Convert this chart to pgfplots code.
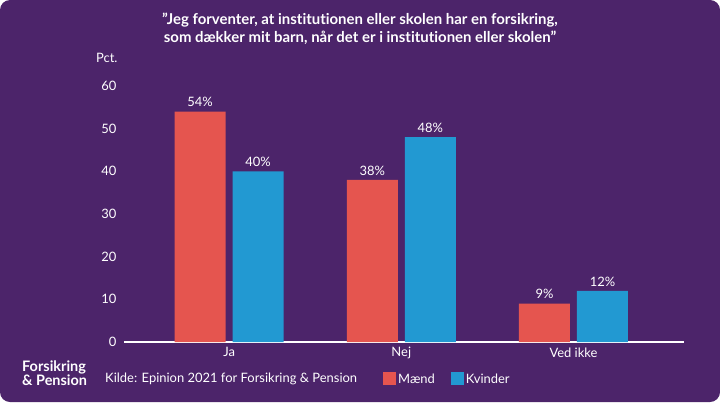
\documentclass[border=0pt]{standalone}
\usepackage{fontspec}
\setmainfont{Lato}[Ligatures={NoCommon,NoRequired,NoContextual}]
\usepackage{pgfplots}
\pgfplotsset{compat=1.18}
\definecolor{bg}{HTML}{4C246A}
\definecolor{red1}{HTML}{E5554F}
\definecolor{blue1}{HTML}{2299D2}
\begin{document}
\begin{tikzpicture}[x=1bp,y=1bp]
\fill[white] (0,0) rectangle (720,402);
\fill[bg, rounded corners=10bp] (0,0) rectangle (720,402);
\node[white, font=\bfseries\fontsize{15}{18}\selectfont, align=center] at (360,373)
  {”Jeg forventer, at institutionen eller skolen har en forsikring,\\som dækker mit barn, når det er i institutionen eller skolen”};
\node[white, font=\fontsize{13}{15}\selectfont, anchor=west, inner sep=0] at (96,344) {Pct.};
\node[white, font=\bfseries\fontsize{14.5}{14}\selectfont, align=left, anchor=west, inner sep=0] at (22,29)
  {Forsikring\\\& Pension};
\node[white, font=\fontsize{13}{15}\selectfont, anchor=west, inner sep=0] at (105,23)
  {Kilde: Epinion 2021 for Forsikring \& Pension};
\begin{axis}[
  at={(124bp,60bp)}, anchor=south west,
  scale only axis, width=560bp, height=256bp,
  xmin=-0.6105, xmax=2.642, ymin=0, ymax=60,
  clip=false,
  axis x line*=bottom, axis y line*=left,
  x axis line style={draw=white, line width=1.6bp, -},
  y axis line style={draw=none},
  major tick length=0pt,
  xtick={0,1,2}, xticklabels={Ja,Nej,{Ved ikke}},
  ytick={0,10,...,60},
  tick label style={white, font=\fontsize{13}{15}\selectfont},
  /pgf/number format/assume math mode=true,
  xticklabel style={yshift=-2bp},
  yticklabel style={xshift=-4bp},
  ybar,
  nodes near coords={\pgfmathprintnumber{\pgfplotspointmeta}\%},
  every node near coord/.append style={white, font=\fontsize{13}{15}\selectfont, yshift=1bp},
  legend style={at={(0.4625,-0.1445)}, anchor=west, draw=none, fill=none,
    text=white, font=\fontsize{13}{15}\selectfont, legend columns=2,
    /tikz/every even column/.append style={column sep=14bp},
    inner sep=0pt},
  legend image code/.code={\fill[#1] (0bp,-6.5bp) rectangle (13bp,6.5bp);},
]
\addplot[fill=red1, draw=none, bar width=51bp, bar shift=-29bp] coordinates {(0,54) (1,38) (2,9)};
\addplot[fill=blue1, draw=none, bar width=51bp, bar shift=29bp] coordinates {(0,40) (1,48) (2,12)};
\legend{Mænd,Kvinder}
\end{axis}
\end{tikzpicture}
\end{document}
